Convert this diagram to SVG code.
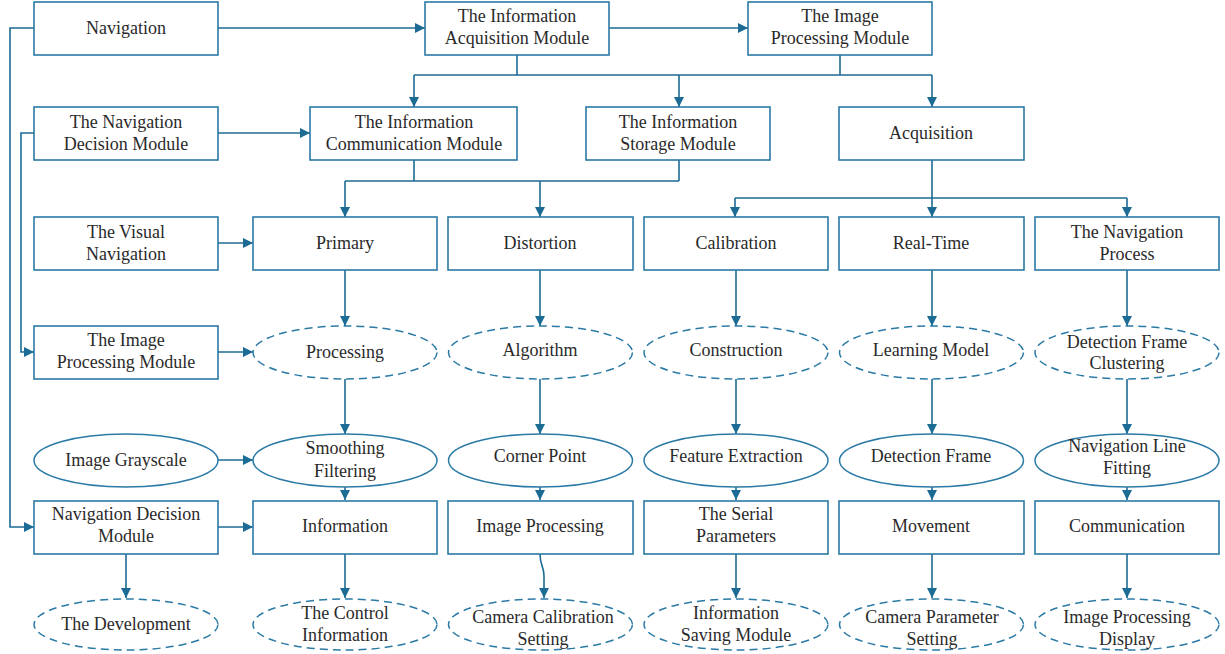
<svg xmlns="http://www.w3.org/2000/svg" width="1225" height="654" viewBox="0 0 1225 654">
<defs>
<marker id="ah" markerUnits="userSpaceOnUse" markerWidth="10" markerHeight="10" refX="10" refY="5" orient="auto">
<path d="M0,0 L10,5 L0,10 z" fill="#1c6b94"/>
</marker>
<style>
.b{fill:#fff;stroke:#2b7aa6;stroke-width:1.6}
.e{fill:#fff;stroke:#2b7aa6;stroke-width:1.5}
.d{fill:#fff;stroke:#2b7aa6;stroke-width:1.5;stroke-dasharray:8 5}
.c{fill:none;stroke:#1c6b94;stroke-width:1.6}
.a{fill:none;stroke:#1c6b94;stroke-width:1.6;marker-end:url(#ah)}
text{font-family:"Liberation Serif","Times New Roman",serif;font-size:18px;fill:#2a2a2a;text-anchor:middle}
</style>
</defs>
<rect width="1225" height="654" fill="#fff"/>

<g id="connectors">
<path class="a" d="M218,28 H425"/>
<path class="a" d="M609,28 H748"/>
<path class="c" d="M517,55 V75 M840,55 V75 M414,75 H932"/>
<path class="a" d="M414,75 V107"/>
<path class="a" d="M679,75 V107"/>
<path class="a" d="M932,75 V107"/>
<path class="a" d="M218,133 H310"/>
<path class="c" d="M414,160 V181 M679,160 V181 M345,181 H679"/>
<path class="a" d="M345,181 V217"/>
<path class="a" d="M540,181 V217"/>
<path class="c" d="M932,160 V198 M735,198 H1127"/>
<path class="a" d="M735,198 V217"/>
<path class="a" d="M932,198 V217"/>
<path class="a" d="M1127,198 V217"/>
<path class="a" d="M34,28 H10 V527 H34"/>
<path class="a" d="M34,133 H21 V352 H34"/>
<path class="a" d="M218,243 H253"/>
<path class="a" d="M218,352 H253"/>
<path class="a" d="M218,460 H253"/>
<path class="a" d="M218,527 H253"/>
<path class="a" d="M126,554 V598"/>
<path class="a" d="M345,270 V326"/>
<path class="a" d="M345,379 V434"/>
<path class="a" d="M345,487 V500"/>
<path class="a" d="M345,554 V598"/>
<path class="a" d="M540,270 V326"/>
<path class="a" d="M540,379 V434"/>
<path class="a" d="M540,487 V500"/>
<path class="a" d="M540,554 C540,566 544,566 544,576 V598"/>
<path class="a" d="M736,270 V326"/>
<path class="a" d="M736,379 V434"/>
<path class="a" d="M736,487 V500"/>
<path class="a" d="M736,554 V598"/>
<path class="a" d="M932,270 V326"/>
<path class="a" d="M932,379 V434"/>
<path class="a" d="M932,487 V500"/>
<path class="a" d="M932,554 V598"/>
<path class="a" d="M1127,270 V326"/>
<path class="a" d="M1127,379 V434"/>
<path class="a" d="M1127,487 V500"/>
<path class="a" d="M1127,554 V598"/>
</g>

<g id="n-navigation"><rect class="b" x="34" y="2" width="184" height="53"/><text x="126" y="34">Navigation</text></g>
<g id="n-info-acq"><rect class="b" x="425" y="2" width="184" height="53"/><text x="517" y="22">The Information</text><text x="517" y="44">Acquisition Module</text></g>
<g id="n-img-proc-top"><rect class="b" x="748" y="2" width="184" height="53"/><text x="840" y="22">The Image</text><text x="840" y="44">Processing Module</text></g>

<g id="n-nav-decision-top"><rect class="b" x="34" y="107" width="184" height="53"/><text x="126" y="128">The Navigation</text><text x="126" y="150">Decision Module</text></g>
<g id="n-info-comm"><rect class="b" x="310" y="107" width="207" height="53"/><text x="414" y="128">The Information</text><text x="414" y="150">Communication Module</text></g>
<g id="n-info-storage"><rect class="b" x="586" y="107" width="184" height="53"/><text x="678" y="128">The Information</text><text x="678" y="150">Storage Module</text></g>
<g id="n-acquisition"><rect class="b" x="839" y="107" width="185" height="53"/><text x="931" y="139">Acquisition</text></g>

<g id="n-visual-nav"><rect class="b" x="34" y="217" width="184" height="53"/><text x="126" y="238">The Visual</text><text x="126" y="260">Navigation</text></g>
<g id="n-primary"><rect class="b" x="253" y="217" width="184" height="53"/><text x="345" y="249">Primary</text></g>
<g id="n-distortion"><rect class="b" x="448" y="217" width="185" height="53"/><text x="540" y="249">Distortion</text></g>
<g id="n-calibration"><rect class="b" x="644" y="217" width="184" height="53"/><text x="736" y="249">Calibration</text></g>
<g id="n-realtime"><rect class="b" x="839" y="217" width="185" height="53"/><text x="931" y="249">Real-Time</text></g>
<g id="n-nav-process"><rect class="b" x="1035" y="217" width="184" height="53"/><text x="1127" y="238">The Navigation</text><text x="1127" y="260">Process</text></g>

<g id="n-img-proc-mod"><rect class="b" x="34" y="326" width="184" height="53"/><text x="126" y="346">The Image</text><text x="126" y="368">Processing Module</text></g>
<g id="n-processing"><ellipse class="d" cx="345" cy="352.5" rx="92" ry="26.5"/><text x="345" y="358">Processing</text></g>
<g id="n-algorithm"><ellipse class="d" cx="540.5" cy="352.5" rx="92" ry="26.5"/><text x="540" y="356">Algorithm</text></g>
<g id="n-construction"><ellipse class="d" cx="736" cy="352.5" rx="92" ry="26.5"/><text x="736" y="356">Construction</text></g>
<g id="n-learning"><ellipse class="d" cx="931.5" cy="352.5" rx="92" ry="26.5"/><text x="931" y="356">Learning Model</text></g>
<g id="n-det-cluster"><ellipse class="d" cx="1127" cy="352.5" rx="92" ry="26.5"/><text x="1127" y="348">Detection Frame</text><text x="1127" y="369">Clustering</text></g>

<g id="n-grayscale"><ellipse class="e" cx="126" cy="460.5" rx="92" ry="26.5"/><text x="126" y="466">Image Grayscale</text></g>
<g id="n-smoothing"><ellipse class="e" cx="345" cy="460.5" rx="92" ry="26.5"/><text x="345" y="454">Smoothing</text><text x="345" y="477">Filtering</text></g>
<g id="n-corner"><ellipse class="e" cx="540.5" cy="460.5" rx="92" ry="26.5"/><text x="540" y="462">Corner Point</text></g>
<g id="n-feature"><ellipse class="e" cx="736" cy="460.5" rx="92" ry="26.5"/><text x="736" y="462">Feature Extraction</text></g>
<g id="n-det-frame"><ellipse class="e" cx="931.5" cy="460.5" rx="92" ry="26.5"/><text x="931" y="462">Detection Frame</text></g>
<g id="n-nav-line"><ellipse class="e" cx="1127" cy="460.5" rx="92" ry="26.5"/><text x="1127" y="452">Navigation Line</text><text x="1127" y="474">Fitting</text></g>

<g id="n-nav-decision"><rect class="b" x="34" y="501" width="184" height="53"/><text x="126" y="520">Navigation Decision</text><text x="126" y="542">Module</text></g>
<g id="n-information"><rect class="b" x="253" y="501" width="184" height="53"/><text x="345" y="532">Information</text></g>
<g id="n-image-processing"><rect class="b" x="448" y="501" width="185" height="53"/><text x="540" y="532">Image Processing</text></g>
<g id="n-serial"><rect class="b" x="644" y="501" width="184" height="53"/><text x="736" y="520">The Serial</text><text x="736" y="542">Parameters</text></g>
<g id="n-movement"><rect class="b" x="839" y="501" width="185" height="53"/><text x="931" y="532">Movement</text></g>
<g id="n-communication"><rect class="b" x="1035" y="501" width="184" height="53"/><text x="1127" y="532">Communication</text></g>

<g id="n-development"><ellipse class="d" cx="126" cy="624.5" rx="92" ry="25.5"/><text x="126" y="630">The Development</text></g>
<g id="n-control-info"><ellipse class="d" cx="345" cy="624.5" rx="92" ry="25.5"/><text x="345" y="619">The Control</text><text x="345" y="641">Information</text></g>
<g id="n-cam-calib"><ellipse class="d" cx="540.5" cy="624.5" rx="92" ry="25.5"/><text x="543" y="623">Camera Calibration</text><text x="543" y="645">Setting</text></g>
<g id="n-info-saving"><ellipse class="d" cx="736" cy="624.5" rx="92" ry="25.5"/><text x="736" y="619">Information</text><text x="736" y="641">Saving Module</text></g>
<g id="n-cam-param"><ellipse class="d" cx="931.5" cy="624.5" rx="92" ry="25.5"/><text x="932" y="623">Camera Parameter</text><text x="932" y="645">Setting</text></g>
<g id="n-img-display"><ellipse class="d" cx="1127" cy="624.5" rx="92" ry="25.5"/><text x="1127" y="623">Image Processing</text><text x="1127" y="645">Display</text></g>
</svg>
